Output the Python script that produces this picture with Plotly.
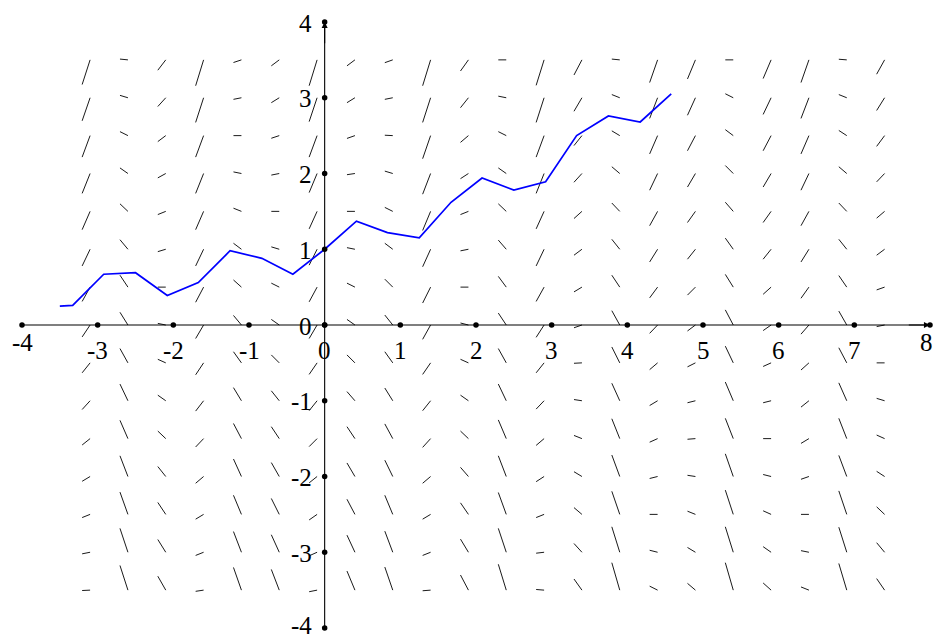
import plotly.graph_objects as go

# ---------------- data ----------------
# slope-field sample columns (x) and rows (y)
field_x = [-3.1, -2.6, -2.1, -1.6, -1.1, -0.6, -0.1, 0.4, 0.9, 1.4, 1.9,
           2.4, 2.9, 3.4, 3.9, 4.4, 4.9, 5.4, 5.9, 6.4, 6.9, 7.4]
field_y = [3.5, 3.0, 2.5, 2.0, 1.5, 1.0, 0.5, 0.0, -0.5, -1.0, -1.5,
           -2.0, -2.5, -3.0, -3.5]

# slope of each little segment, one list per column (top row first)
slopes = [
    [3.1, 2.9, 2.7, 2.5, 2.3, 2.1, 1.8, 1.5, 1.25, 1.1, 0.8, 0.6, 0.4, 0.2, 0.05],
    [-0.1, -0.3, -0.5, -0.7, -0.95, -1.2, -1.5, -1.6, -1.8, -2.1, -2.3, -2.6, -2.8, -3.0, -3.1],
    [1.3, 1.1, 0.75, 0.55, 0.4, 0.3, 0.0, -0.2, -0.45, -0.7, -0.95, -1.25, -1.5, -1.6, -1.75],
    [3.25, 3.1, 2.7, 2.5, 2.3, 2.1, 1.9, 1.7, 1.5, 1.3, 1.05, 0.85, 0.6, 0.4, 0.15],
    [0.33, 0.2, 0.0, -0.2, -0.4, -0.75, -0.9, -1.2, -1.4, -1.65, -1.9, -2.2, -2.4, -2.6, -2.85],
    [0.75, 0.62, 0.33, 0.2, 0.0, -0.3, -0.5, -0.7, -1.0, -1.25, -1.5, -1.75, -2.0, -2.2, -2.6],
    [3.25, 3.0, 2.7, 2.4, 2.2, 2.0, 1.85, 1.7, 1.45, 1.25, 1.0, 0.8, 0.7, 0.45, 0.2],
    [0.75, 0.62, 0.35, 0.15, 0.0, -0.2, -0.5, -0.7, -1.0, -1.15, -1.5, -1.7, -1.9, -2.15, -2.4],
    [0.35, 0.2, -0.05, -0.3, -0.5, -0.75, -1.0, -1.25, -1.4, -1.6, -1.85, -2.05, -2.4, -2.65, -2.9],
    [3.25, 3.1, 2.9, 2.6, 2.4, 2.2, 2.0, 1.8, 1.45, 1.25, 1.1, 0.85, 0.6, 0.4, 0.08],
    [1.4, 1.25, 0.85, 0.65, 0.4, 0.2, 0.0, -0.25, -0.45, -0.7, -0.95, -1.15, -1.45, -1.65, -1.9],
    [0.0, -0.2, -0.5, -0.7, -0.95, -1.15, -1.35, -1.5, -1.8, -2.1, -2.35, -2.6, -2.75, -3.0, -3.25],
    [3.2, 3.1, 2.7, 2.5, 2.2, 2.1, 1.8, 1.55, 1.25, 1.05, 0.85, 0.65, 0.4, 0.12, -0.08],
    [1.9, 1.7, 1.25, 1.1, 0.9, 0.75, 0.6, 0.35, 0.05, -0.15, -0.4, -0.6, -0.85, -1.1, -1.4],
    [-0.1, -0.4, -0.6, -0.85, -1.05, -1.25, -1.5, -1.8, -2.0, -2.2, -2.5, -2.7, -2.9, -3.2, -3.45],
    [2.85, 2.6, 2.3, 2.1, 1.8, 1.6, 1.35, 1.05, 0.85, 0.6, 0.45, 0.25, 0.0, -0.25, -0.5],
    [2.4, 2.2, 1.9, 1.7, 1.4, 1.25, 1.0, 0.75, 0.5, 0.25, 0.08, -0.15, -0.4, -0.6, -0.85],
    [0.0, -0.5, -0.75, -1.0, -1.15, -1.4, -1.6, -1.9, -2.1, -2.35, -2.55, -2.85, -3.05, -3.2, -3.45],
    [2.35, 2.1, 1.9, 1.7, 1.4, 1.25, 0.9, 0.7, 0.45, 0.25, 0.0, -0.25, -0.45, -0.7, -0.9],
    [2.85, 2.6, 2.3, 2.1, 1.8, 1.6, 1.4, 1.15, 0.9, 0.8, 0.6, 0.35, 0.0, -0.2, -0.4],
    [-0.08, -0.4, -0.65, -0.85, -1.05, -1.25, -1.45, -1.75, -1.9, -2.25, -2.55, -2.65, -2.95, -3.15, -3.35],
    [1.8, 1.6, 1.35, 1.05, 0.85, 0.75, 0.35, 0.2, 0.0, -0.3, -0.45, -0.65, -0.95, -1.2, -1.45],
]

# Euler polygon (blue)
euler_x = [-3.5, -3.33, -2.92, -2.5, -2.08, -1.67, -1.25, -0.83, -0.42, 0.0,
           0.42, 0.83, 1.25, 1.67, 2.08, 2.5, 2.92, 3.33, 3.75, 4.17, 4.58]
euler_y = [0.25, 0.26, 0.67, 0.69, 0.39, 0.56, 0.98, 0.88, 0.67, 1.0,
           1.37, 1.22, 1.15, 1.62, 1.94, 1.78, 1.89, 2.50, 2.76, 2.68, 3.05]

# axis ticks
x_ticks = [-4, -3, -2, -1, 0, 1, 2, 3, 4, 5, 6, 7, 8]
x_tick_labels = ["-4", "-3", "-2", "-1", "0", "1", "2", "3", "4", "5", "6", "7", "8"]
y_ticks = [4, 3, 2, 1, 0, -1, -2, -3, -4]
y_tick_labels = ["4", "3", "2", "1", "0", "-1", "-2", "-3", "-4"]

# ---------------- figure ----------------
SEG_DX = 0.105  # horizontal extent of each slope mark
FONT = dict(family="Liberation Serif, DejaVu Serif, serif", size=25, color="black")

seg_x, seg_y = [], []
for xc, col in zip(field_x, slopes):
    for yc, s in zip(field_y, col):
        seg_x += [xc - SEG_DX, xc, None]
        seg_y += [yc - SEG_DX * s, yc, None]

fig = go.Figure()

fig.add_trace(go.Scatter(x=seg_x, y=seg_y, mode="lines",
                         line=dict(color="black", width=0.9),
                         hoverinfo="skip"))

# axes lines
fig.add_trace(go.Scatter(x=[x_ticks[0], x_ticks[-1]], y=[0, 0], mode="lines",
                         line=dict(color="black", width=1.1), hoverinfo="skip"))
fig.add_trace(go.Scatter(x=[0, 0], y=[y_ticks[-1], y_ticks[0]], mode="lines",
                         line=dict(color="black", width=1.1), hoverinfo="skip"))

# Euler curve
fig.add_trace(go.Scatter(x=euler_x, y=euler_y, mode="lines",
                         line=dict(color="rgb(0,0,255)", width=1.7)))

# tick dots
fig.add_trace(go.Scatter(x=x_ticks, y=[0] * len(x_ticks), mode="markers",
                         marker=dict(color="black", size=5.5)))
fig.add_trace(go.Scatter(x=[0] * len(y_ticks), y=y_ticks, mode="markers",
                         marker=dict(color="black", size=5.5)))

annotations = []
# arrow heads
annotations.append(dict(x=x_ticks[-1], y=0, ax=x_ticks[-1] - 0.3, ay=0,
                        xref="x", yref="y", axref="x", ayref="y",
                        showarrow=True, arrowhead=2, arrowsize=1.1,
                        arrowwidth=1.1, arrowcolor="black", text=""))
annotations.append(dict(x=0, y=y_ticks[0], ax=0, ay=y_ticks[0] - 0.3,
                        xref="x", yref="y", axref="x", ayref="y",
                        showarrow=True, arrowhead=2, arrowsize=1.1,
                        arrowwidth=1.1, arrowcolor="black", text=""))

for v, t in zip(x_ticks, x_tick_labels):
    end = v in (x_ticks[0], x_ticks[-1])
    annotations.append(dict(x=v, y=0, xref="x", yref="y", text=t,
                            showarrow=False, font=FONT,
                            xanchor="center", yanchor="middle",
                            xshift=-4 if v == x_ticks[-1] else 0,
                            yshift=-17 if end else -25))
for v, t in zip(y_ticks, y_tick_labels):
    ann = dict(x=0, y=v, xref="x", yref="y", text=t,
               showarrow=False, font=FONT,
               xanchor="right", yanchor="middle",
               xshift=-11, yshift=-1)
    if v == y_ticks[-1]:
        ann.update(height=20, yshift=3)
    annotations.append(ann)

fig.update_layout(
    width=934, height=637,
    margin=dict(l=0, r=0, t=0, b=0),
    paper_bgcolor="white", plot_bgcolor="white",
    showlegend=False,
    hovermode=False,
    xaxis=dict(range=[-4.2907, 8.0529], visible=False, fixedrange=True),
    yaxis=dict(range=[-4.1188, 4.2904], visible=False, fixedrange=True),
    annotations=annotations,
)

fig.write_html("out.html",
               config={"displayModeBar": False, "staticPlot": True},
               post_script="document.body.style.margin='0';document.body.style.padding='0';")
